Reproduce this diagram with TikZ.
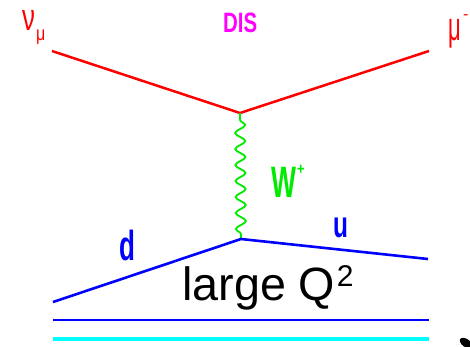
\documentclass[tikz,border=0pt]{standalone}
\usepackage{fontspec}
\setmainfont{Liberation Sans}
\usepackage{graphicx}
\usetikzlibrary{decorations.pathmorphing}

\definecolor{dismag}{RGB}{255,0,255}
\definecolor{bosongreen}{RGB}{0,235,0}
\definecolor{seacyan}{RGB}{0,255,255}

% size, horizontal squeeze, text
\newcommand{\lab}[3]{\fontsize{#1}{#1}\selectfont\scalebox{#2}[1]{#3}}

\begin{document}
\begin{tikzpicture}[x=1pt,y=-1pt,
    lepton/.style={red,line width=2.5pt},
    quark/.style={blue,line width=2.6pt},
    boson/.style={bosongreen,line width=1.8pt,decorate,
      decoration={snake,amplitude=5pt,segment length=16pt,pre length=7pt,post length=5pt}},
    lbl/.style={inner sep=0pt,anchor=base west}]
  \useasboundingbox (0,0) rectangle (470,346);
  % vertices and free ends
  \coordinate (nuin) at (52,51);
  \coordinate (muout) at (429,51);
  \coordinate (wtop) at (240,113);
  \coordinate (wbot) at (241,239);
  \coordinate (din) at (53,302);
  \coordinate (uout) at (428,259);
  \coordinate (seaL) at (53,320);
  \coordinate (seaR) at (429,320);
  \coordinate (cyanL) at (53,339);
  \coordinate (cyanR) at (429,339);

  \draw[lepton] (nuin) -- (wtop) -- (muout);
  \draw[boson] (wtop) -- (wbot);
  \draw[quark] (din) -- (wbot) -- (uout);
  \draw[quark] (seaL) -- (seaR);
  \draw[seacyan,line width=3.6pt] (cyanL) -- (cyanR);

  % labels
  \node[lbl,red] (nu) at (22,30) {\lab{38}{0.68}{ν}};
  \node[lbl,red] (nusub) at (36,40) {\lab{20}{0.8}{μ}};
  \node[lbl,red] (mu) at (448,40) {\lab{40}{0.55}{μ}};
  \node[lbl,red] (musup) at (463,19) {\lab{16}{1}{-}};
  \node[lbl,dismag] (dis) at (223,32) {\lab{28}{0.73}{\bfseries DIS}};
  \node[lbl,bosongreen] (w) at (271,197) {\lab{44}{0.6}{\bfseries W}};
  \node[lbl,bosongreen] (wsup) at (297,174) {\lab{16}{0.8}{\bfseries +}};
  \node[lbl,blue] (d) at (119,260) {\lab{42}{0.62}{\bfseries d}};
  \node[lbl,blue] (u) at (333,237) {\lab{37}{0.66}{\bfseries u}};
  \node[lbl] (q2) at (182,300) {\fontsize{46.7}{50}\selectfont large Q\hspace{1.5pt}\raisebox{13.5pt}{\fontsize{30}{30}\selectfont 2}};

  \fill[black,rotate around={-35:(466,343)}] (466,343) ellipse (7 and 4);
\end{tikzpicture}
\end{document}
